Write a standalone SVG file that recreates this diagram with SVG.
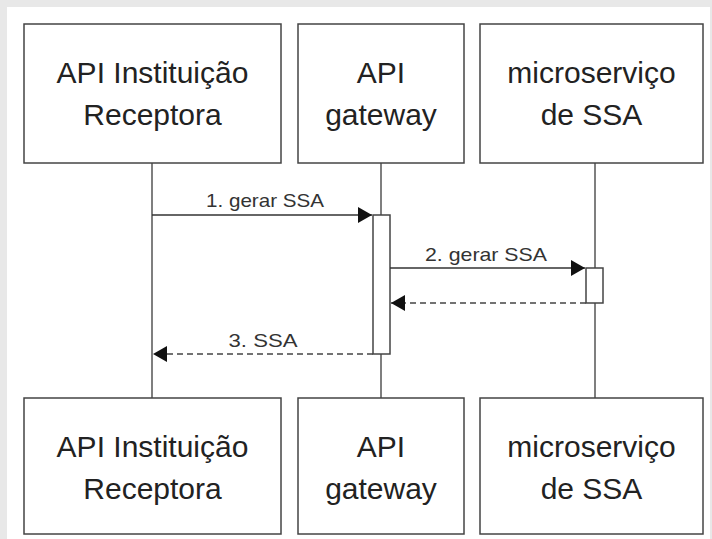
<svg xmlns="http://www.w3.org/2000/svg" width="712" height="539" viewBox="0 0 712 539">
<style>
.box{fill:#fff;stroke:#444;stroke-width:1.5}
.t{font-family:"Liberation Sans",Arial,sans-serif;font-size:30px;fill:#222;text-anchor:middle}
.lbl{font-family:"Liberation Sans",Arial,sans-serif;font-size:19px;fill:#333;text-anchor:middle}
.life{stroke:#555;stroke-width:1.5;fill:none}
.msg{stroke:#333;stroke-width:1.5;fill:none}
.ret{stroke:#444;stroke-width:1.5;fill:none;stroke-dasharray:6 4}
.act{fill:#fff;stroke:#444;stroke-width:1.5}
</style>
<defs>
<marker id="ah" viewBox="0 0 14 16" refX="14" refY="8" markerWidth="14" markerHeight="16" markerUnits="userSpaceOnUse" orient="auto">
<path d="M0,0 L14,8 L0,16 Z" fill="#111"/>
</marker>
</defs>
<rect x="0" y="0" width="712" height="539" fill="#e8e8e8"/>
<rect x="7" y="7" width="703" height="532" fill="#fff"/>
<g id="lifelines">
<line class="life" x1="152" y1="163" x2="152" y2="398"/>
<line class="life" x1="381" y1="163" x2="381" y2="398"/>
<line class="life" x1="595" y1="163" x2="595" y2="398"/>
</g>
<g id="act-gateway"><rect class="act" x="373" y="215" width="17" height="139"/></g>
<g id="act-ssa"><rect class="act" x="586" y="268" width="17" height="35"/></g>
<g id="connectors">
<line class="msg" x1="152" y1="215" x2="372" y2="215" marker-end="url(#ah)"/>
<text class="lbl" x="265" y="207" textLength="118" lengthAdjust="spacingAndGlyphs">1. gerar SSA</text>
<line class="msg" x1="390" y1="268" x2="585" y2="268" marker-end="url(#ah)"/>
<text class="lbl" x="486" y="261" textLength="122" lengthAdjust="spacingAndGlyphs">2. gerar SSA</text>
<line class="ret" x1="586" y1="303" x2="391" y2="303" marker-end="url(#ah)"/>
<line class="ret" x1="373" y1="354" x2="153" y2="354" marker-end="url(#ah)"/>
<text class="lbl" x="263" y="347" textLength="69" lengthAdjust="spacingAndGlyphs">3. SSA</text>
</g>
<g id="top-api-inst">
<rect class="box" x="24" y="24" width="257" height="139"/>
<text class="t" x="152.5" y="83">API Instituição</text>
<text class="t" x="152.5" y="125">Receptora</text>
</g>
<g id="top-gateway">
<rect class="box" x="298" y="24" width="166" height="139"/>
<text class="t" x="381" y="83">API</text>
<text class="t" x="381" y="125">gateway</text>
</g>
<g id="top-ssa">
<rect class="box" x="480" y="24" width="223" height="139"/>
<text class="t" x="591.5" y="83">microserviço</text>
<text class="t" x="591.5" y="125">de SSA</text>
</g>
<g id="bottom-api-inst">
<rect class="box" x="24" y="398" width="257" height="136"/>
<text class="t" x="152.5" y="457">API Instituição</text>
<text class="t" x="152.5" y="499">Receptora</text>
</g>
<g id="bottom-gateway">
<rect class="box" x="298" y="398" width="166" height="136"/>
<text class="t" x="381" y="457">API</text>
<text class="t" x="381" y="499">gateway</text>
</g>
<g id="bottom-ssa">
<rect class="box" x="480" y="398" width="223" height="136"/>
<text class="t" x="591.5" y="457">microserviço</text>
<text class="t" x="591.5" y="499">de SSA</text>
</g>
</svg>
